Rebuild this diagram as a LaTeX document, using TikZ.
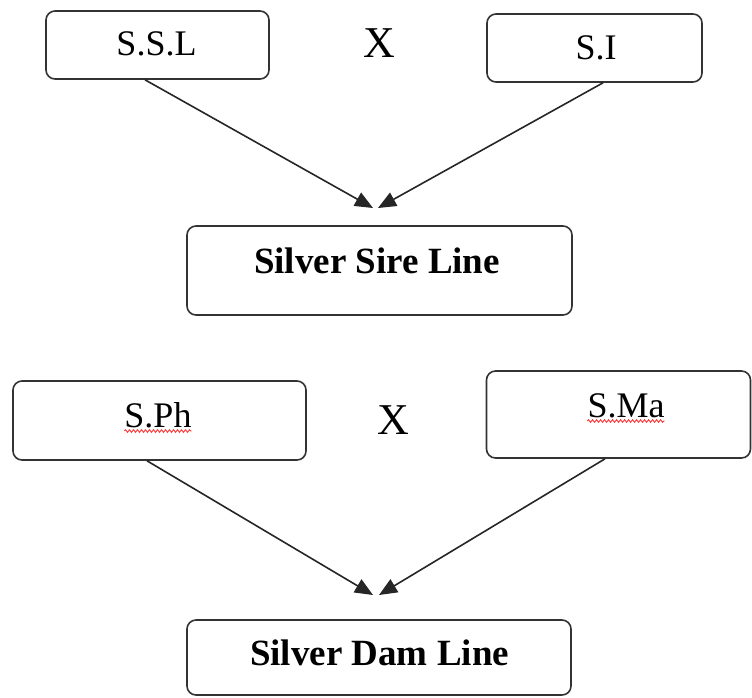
\documentclass[tikz,border=0pt]{standalone}
\usepackage{fontspec}
\setmainfont{Liberation Serif}
\usetikzlibrary{arrows.meta,decorations.pathmorphing}
\begin{document}
\begin{tikzpicture}[x=1pt,y=-1pt,
 box/.style={draw=black!80, line width=1.6pt, rounded corners=9pt, inner sep=0pt},
 lbl/.style={font=\fontsize{36}{40}\selectfont, inner sep=0pt, anchor=base},
 blbl/.style={font=\fontsize{37}{40}\selectfont\bfseries, inner sep=0pt, anchor=base},
 cross/.style={font=\fontsize{44}{48}\selectfont, inner sep=0pt, anchor=base},
 conn/.style={draw=black!85, line width=1.6pt, -{Triangle[length=18pt,width=15pt]}},
 wavy/.style={draw=red!80, line width=0.9pt, decorate, decoration={snake, amplitude=1.3pt, segment length=4pt}}]
\useasboundingbox (0,0) rectangle (752,697);
% boxes
\node[box, minimum width=223pt, minimum height=68pt] (ssl) at (157.5,45) {};
\node[box, minimum width=215pt, minimum height=68pt] (si) at (594.5,48) {};
\node[box, minimum width=385pt, minimum height=89pt] (sire) at (379.5,270.5) {};
\node[box, minimum width=293pt, minimum height=79pt] (sph) at (159.5,420.5) {};
\node[box, minimum width=264pt, minimum height=87pt] (sma) at (618.5,414.5) {};
\node[box, minimum width=384pt, minimum height=75pt] (dam) at (379,657.5) {};
% texts
\node[lbl] (sslT) at (156.5,55) {S.S.L};
\node[lbl] (siT) at (596,59) {S.I};
\node[cross] (x1) at (379,57) {X};
\node[blbl] (sireT) at (377,273) {Silver Sire Line};
\node[lbl] (sphT) at (158,427) {S.Ph};
\node[cross] (x2) at (393,434) {X};
\node[lbl] (smaT) at (626,417) {S.Ma};
\node[blbl] (damT) at (379.5,665) {Silver Dam Line};
% spell-check underlines
\draw[wavy] ([yshift=-4pt]sphT.base west) -- ([yshift=-4pt]sphT.base east);
\draw[wavy] ([yshift=-4pt]smaT.base west) -- ([yshift=-4pt]smaT.base east);
% connectors
\coordinate (t1) at (373,208);
\coordinate (t2) at (378,208);
\coordinate (t3) at (373,595);
\coordinate (t4) at (379,595);
\draw[conn] ([xshift=-12.5pt]ssl.south) -- (t1);
\draw[conn] ([xshift=8.5pt]si.south) -- (t2);
\draw[conn] ([xshift=-12.5pt]sph.south) -- (t3);
\draw[conn] ([xshift=-13.5pt]sma.south) -- (t4);
\end{tikzpicture}
\end{document}
